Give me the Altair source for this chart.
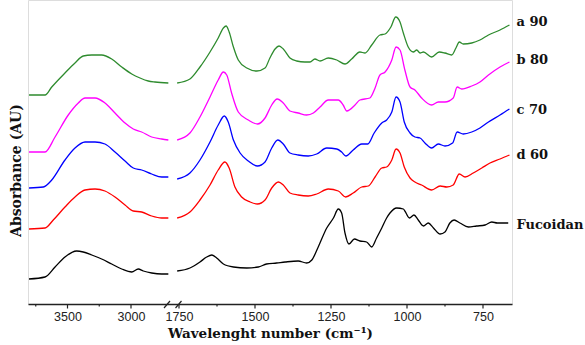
import altair as alt
import pandas as pd

SERIES = ["a 90", "b 80", "c 70", "d 60", "Fucoidan"]
COLORS = ["#2e8b2e", "#ff00ff", "#0000ff", "#ff0000", "#000000"]

# ---- high-wavenumber window (3800-2700 cm-1) ----
hi_wn = {
    "a 90": [3803, 3677, 3624, 3520, 3441, 3376, 3309, 3231, 3152, 3073, 2994, 2929, 2864, 2811, 2706],
    "b 80": [3803, 3677, 3598, 3494, 3415, 3362, 3283, 3205, 3126, 3047, 2982, 2916, 2837, 2758, 2706],
    "c 70": [3803, 3690, 3624, 3520, 3441, 3362, 3283, 3205, 3126, 3047, 2982, 2916, 2837, 2758, 2706],
    "d 60": [3803, 3677, 3612, 3520, 3441, 3362, 3283, 3205, 3126, 3047, 2982, 2916, 2837, 2758, 2706],
    "Fucoidan": [3803, 3677, 3598, 3520, 3428, 3376, 3309, 3231, 3152, 3073, 2994, 2943, 2903, 2837, 2758, 2706],
}
hi_ab = {
    "a 90": [2.05, 2.05, 2.13, 2.27, 2.37, 2.44, 2.45, 2.45, 2.41, 2.33, 2.26, 2.22, 2.19, 2.18, 2.17],
    "b 80": [1.48, 1.48, 1.63, 1.85, 1.97, 2.02, 2.02, 1.97, 1.87, 1.77, 1.71, 1.68, 1.63, 1.61, 1.60],
    "c 70": [1.12, 1.13, 1.20, 1.40, 1.52, 1.58, 1.58, 1.56, 1.48, 1.39, 1.32, 1.30, 1.26, 1.23, 1.23],
    "d 60": [0.71, 0.72, 0.80, 0.93, 1.03, 1.10, 1.11, 1.09, 1.03, 0.95, 0.89, 0.88, 0.84, 0.82, 0.82],
    "Fucoidan": [0.21, 0.23, 0.33, 0.43, 0.49, 0.48, 0.45, 0.41, 0.36, 0.31, 0.28, 0.31, 0.29, 0.27, 0.26, 0.26],
}

# ---- fingerprint window (1750-660 cm-1) ----
lo_wn = {
    "a 90": [1756, 1714, 1681, 1648, 1621, 1604, 1595, 1585, 1571, 1555, 1527, 1494, 1467, 1451, 1434, 1421,
             1407, 1385, 1363, 1336, 1319, 1303, 1286, 1259, 1231, 1204, 1182, 1155, 1138, 1116, 1089, 1072,
             1053, 1037, 1023, 1012, 996, 979, 968, 957, 946, 919, 894, 875, 853, 839, 828, 815, 787, 760,
             732, 694, 663],
    "b 80": [1756, 1714, 1681, 1648, 1621, 1604, 1593, 1577, 1555, 1522, 1492, 1467, 1445, 1427, 1407, 1385,
             1358, 1330, 1308, 1286, 1259, 1226, 1210, 1198, 1171, 1155, 1122, 1105, 1089, 1072, 1050, 1036,
             1023, 1007, 990, 974, 952, 919, 897, 875, 848, 835, 820, 787, 760, 732, 694, 663],
    "c 70": [1756, 1714, 1681, 1648, 1621, 1601, 1588, 1571, 1549, 1522, 1492, 1467, 1445, 1425, 1407, 1385,
             1358, 1325, 1297, 1264, 1231, 1215, 1201, 1177, 1149, 1129, 1108, 1083, 1067, 1050, 1036, 1023,
             1009, 990, 974, 957, 941, 919, 897, 875, 850, 835, 815, 787, 760, 732, 694, 663],
    "d 60": [1756, 1714, 1681, 1648, 1621, 1599, 1585, 1566, 1544, 1516, 1492, 1467, 1445, 1423, 1407, 1385,
             1358, 1325, 1297, 1259, 1226, 1202, 1177, 1149, 1127, 1105, 1083, 1067, 1050, 1036, 1023, 1009,
             990, 974, 952, 919, 891, 869, 848, 828, 809, 782, 754, 727, 694, 663],
    "Fucoidan": [1756, 1714, 1681, 1659, 1642, 1626, 1604, 1571, 1527, 1489, 1462, 1429, 1401, 1358, 1330,
                 1313, 1292, 1264, 1242, 1226, 1215, 1204, 1191, 1173, 1155, 1133, 1116, 1100, 1083, 1067,
                 1056, 1034, 1012, 1007, 992, 977, 963, 946, 930, 913, 891, 875, 859, 845, 826, 798, 771,
                 743, 721, 703, 683, 667],
}
lo_ab = {
    "a 90": [2.17, 2.21, 2.33, 2.48, 2.62, 2.72, 2.74, 2.68, 2.53, 2.40, 2.32, 2.29, 2.32, 2.42, 2.51, 2.54,
             2.51, 2.42, 2.39, 2.38, 2.38, 2.41, 2.39, 2.42, 2.40, 2.36, 2.41, 2.48, 2.47, 2.55, 2.65, 2.66,
             2.73, 2.83, 2.78, 2.67, 2.53, 2.48, 2.50, 2.47, 2.48, 2.43, 2.48, 2.47, 2.45, 2.52, 2.58, 2.56,
             2.57, 2.60, 2.65, 2.70, 2.75],
    "b 80": [1.60, 1.67, 1.83, 2.03, 2.20, 2.28, 2.25, 2.07, 1.88, 1.80, 1.76, 1.82, 1.95, 2.01, 1.97, 1.89,
             1.87, 1.85, 1.87, 1.93, 2.00, 2.00, 1.95, 1.89, 1.95, 2.00, 2.02, 2.12, 2.25, 2.28, 2.40, 2.53,
             2.50, 2.30, 2.13, 2.10, 2.02, 1.95, 1.98, 1.98, 2.02, 2.13, 2.11, 2.14, 2.18, 2.25, 2.33, 2.38],
    "c 70": [1.21, 1.27, 1.40, 1.58, 1.75, 1.84, 1.78, 1.60, 1.47, 1.39, 1.34, 1.38, 1.52, 1.60, 1.56, 1.47,
             1.45, 1.44, 1.46, 1.52, 1.51, 1.48, 1.44, 1.50, 1.56, 1.56, 1.67, 1.77, 1.80, 1.88, 2.03, 1.98,
             1.78, 1.67, 1.63, 1.62, 1.57, 1.52, 1.56, 1.54, 1.57, 1.68, 1.66, 1.68, 1.72, 1.78, 1.85, 1.91],
    "d 60": [0.82, 0.88, 1.00, 1.15, 1.30, 1.38, 1.32, 1.13, 1.03, 0.98, 0.96, 1.00, 1.12, 1.18, 1.15, 1.07,
             1.05, 1.04, 1.06, 1.11, 1.09, 1.03, 1.07, 1.13, 1.14, 1.23, 1.32, 1.33, 1.40, 1.51, 1.47, 1.33,
             1.22, 1.18, 1.15, 1.10, 1.14, 1.13, 1.15, 1.26, 1.23, 1.27, 1.32, 1.37, 1.41, 1.45],
    "Fucoidan": [0.29, 0.32, 0.38, 0.43, 0.45, 0.42, 0.36, 0.33, 0.32, 0.33, 0.36, 0.37, 0.38, 0.39, 0.37,
                 0.40, 0.53, 0.72, 0.82, 0.91, 0.87, 0.67, 0.56, 0.61, 0.59, 0.58, 0.53, 0.62, 0.72, 0.82,
                 0.87, 0.92, 0.91, 0.89, 0.82, 0.85, 0.80, 0.74, 0.77, 0.72, 0.66, 0.68, 0.77, 0.80, 0.77,
                 0.73, 0.74, 0.75, 0.78, 0.77, 0.77, 0.77],
}

# curve labels at the right end
label_ab = [2.78, 2.40, 1.90, 1.45, 0.75]
label_wn = 640

major_ticks = [3500, 3000, 1750, 1500, 1250, 1000, 750]
minor_ticks = [3750, 3250, 1625, 1375, 1125, 875]


# broken wavenumber axis: two linear windows
def to_pos(w):
    return 39.5 + (3500 - w) * 0.127 if w > 2000 else 227 + (1500 - w) * 0.304


POS_EXPR = "datum.wn > 2000 ? 39.5 + (3500 - datum.wn) * 0.127 : 227 + (1500 - datum.wn) * 0.304"
INV = "round(datum.value < 145 ? 3500 - (datum.value - 39.5) / 0.127 : 1500 - (datum.value - 227) / 0.304)"

rows = []
for s in SERIES:
    for w, a in zip(hi_wn[s], hi_ab[s]):
        rows.append({"series": s, "part": s + "-hi", "wn": w, "ab": a})
    for w, a in zip(lo_wn[s], lo_ab[s]):
        rows.append({"series": s, "part": s + "-lo", "wn": w, "ab": a})
df = pd.DataFrame(rows)

lab_df = pd.DataFrame({"label": SERIES, "ab": label_ab, "wn": [label_wn] * len(SERIES)})

tick_df = pd.DataFrame({
    "wn": major_ticks + minor_ticks,
    "len": [0.045] * len(major_ticks) + [0.025] * len(minor_ticks),
})
tick_df["y0"] = -0.04
tick_df["y1"] = -0.04 - tick_df["len"]

x_scale = alt.Scale(domain=[0, 484], nice=False, zero=False)
y_scale = alt.Scale(domain=[-0.04, 3.0], nice=False, zero=False)

x_axis = alt.Axis(
    values=[to_pos(w) for w in major_ticks],
    labelExpr=INV,
    ticks=False,
    grid=False,
    domainColor="#222222",
    domainWidth=1.5,
    labelFont="Liberation Sans",
    labelFontSize=12.5,
    labelColor="#222222",
    labelPadding=6,
    title="Wavelenght number  (cm⁻¹)",
    titleFont="DejaVu Serif",
    titleFontSize=13.5,
    titleFontWeight="bold",
    titleColor="#111111",
    titleY=29,
    titleBaseline="middle",
)
y_axis = alt.Axis(
    title="Absorbance (AU)",
    domain=False,
    ticks=False,
    labels=False,
    grid=False,
    titleFont="DejaVu Serif",
    titleFontSize=14,
    titleFontWeight="bold",
    titleColor="#111111",
    titleX=-12,
    titleY=170,
    titleBaseline="middle",
    titleAlign="center",
)

lines = alt.Chart(df).transform_calculate(pos=POS_EXPR).mark_line(
    strokeWidth=1.3, interpolate="monotone"
).encode(
    x=alt.X("pos:Q", scale=x_scale, axis=x_axis),
    y=alt.Y("ab:Q", scale=y_scale, axis=y_axis),
    color=alt.Color("series:N", scale=alt.Scale(domain=SERIES, range=COLORS), legend=None),
    detail="part:N",
    order="pos:Q",
)

ticks = alt.Chart(tick_df).transform_calculate(pos=POS_EXPR).mark_rule(
    color="#222222", strokeWidth=1.2
).encode(
    x=alt.X("pos:Q", scale=x_scale),
    y=alt.Y("y0:Q", scale=y_scale),
    y2="y1:Q",
)

brk = pd.DataFrame({"x0": [136.0, 147.5], "x1": [142.0, 153.5], "y0": [-0.08, -0.08], "y1": [-0.01, -0.01]})
breaks = alt.Chart(brk).mark_rule(color="#222222", strokeWidth=1.2).encode(
    x=alt.X("x0:Q", scale=x_scale),
    x2="x1:Q",
    y=alt.Y("y0:Q", scale=y_scale),
    y2="y1:Q",
)

labels = alt.Chart(lab_df).transform_calculate(pos=POS_EXPR).mark_text(
    align="left", baseline="middle", font="DejaVu Serif", fontWeight="bold", fontSize=13, color="#111111"
).encode(
    x=alt.X("pos:Q", scale=x_scale),
    y=alt.Y("ab:Q", scale=y_scale),
    text="label:N",
)

chart = alt.layer(lines, ticks, breaks, labels).properties(
    width=484,
    height=304,
    autosize=alt.AutoSizeParams(type="none"),
    padding={"left": 28, "top": 0, "right": 73, "bottom": 41},
).configure_view(stroke=None).configure(background="white")

chart.save("out.html", embed_options={"renderer": "svg", "actions": False})
